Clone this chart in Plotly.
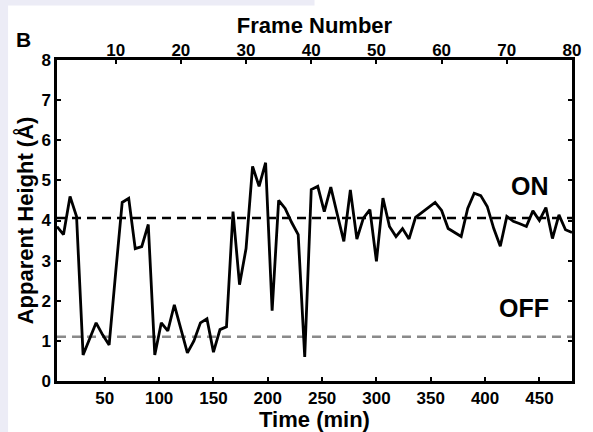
import plotly.graph_objects as go

frames = list(range(1, 81))
time_min = [f * 6 for f in frames]
height = [3.85, 3.65, 4.6, 4.1, 0.65, 1.05, 1.45, 1.15, 0.9, 2.7,
          4.45, 4.55, 3.3, 3.35, 3.9, 0.65, 1.45, 1.25, 1.9, 1.3,
          0.7, 1.0, 1.45, 1.55, 0.72, 1.28, 1.35, 4.22, 2.4, 3.3,
          5.35, 4.85, 5.44, 1.75, 4.5, 4.3, 3.95, 3.65, 0.6, 4.77,
          4.85, 4.22, 4.83, 4.15, 3.48, 4.76, 3.54, 4.06, 4.27, 2.98,
          4.56, 3.85, 3.6, 3.8, 3.54, 4.08, 4.2, 4.32, 4.45, 4.25,
          3.8, 3.7, 3.6, 4.3, 4.68, 4.62, 4.35, 3.8, 3.36, 4.1,
          3.98, 3.92, 3.85, 4.24, 4.0, 4.32, 3.55, 4.14, 3.77, 3.7]
on_level = 4.06
off_level = 1.1
time_range = [6, 480]
frame_range = [1, 80]
time_ticks = [50, 100, 150, 200, 250, 300, 350, 400, 450]
frame_ticks = [10, 20, 30, 40, 50, 60, 70, 80]
y_ticks = [0, 1, 2, 3, 4, 5, 6, 7, 8]

FONT = "Liberation Sans"
tickfont = dict(family=FONT, size=17, color="black", weight="bold")
titlefont = dict(family=FONT, size=22, color="black", weight="bold")
labelfont = dict(family=FONT, size=25, color="black", weight="bold")

fig = go.Figure()
fig.add_trace(go.Scatter(x=time_range, y=[on_level, on_level], mode="lines",
                         line=dict(color="black", width=2.5, dash="9px,6px"),
                         hoverinfo="skip", showlegend=False))
fig.add_trace(go.Scatter(x=time_range, y=[off_level, off_level], mode="lines",
                         line=dict(color="#8a8a8a", width=2.5, dash="9px,6px"),
                         hoverinfo="skip", showlegend=False))
fig.add_trace(go.Scatter(x=time_min, y=height, mode="lines",
                         line=dict(color="black", width=2.8), showlegend=False))
# invisible trace to activate top axis
fig.add_trace(go.Scatter(x=frames, y=height, xaxis="x2", mode="lines",
                         line=dict(color="rgba(0,0,0,0)", width=0),
                         hoverinfo="skip", showlegend=False))

fig.update_layout(
    width=593, height=432,
    margin=dict(l=57, r=20.5, t=60, b=50.5, autoexpand=False),
    paper_bgcolor="white", plot_bgcolor="white",
    xaxis=dict(range=time_range, tickvals=time_ticks, ticks="inside", ticklen=4,
               tickwidth=2, tickcolor="black", showline=True, linewidth=2.5,
               linecolor="black", mirror=True, showgrid=False, zeroline=False,
               tickfont=tickfont, automargin=False,
               title=dict(text="Time (min)", font=titlefont, standoff=2)),
    xaxis2=dict(range=frame_range, tickvals=frame_ticks, overlaying="x", side="top",
                ticks="inside", ticklen=4, tickwidth=2, tickcolor="black",
                showline=False, showgrid=False, zeroline=False, tickfont=tickfont,
                automargin=False,
                title=dict(text="Frame Number", font=titlefont, standoff=0)),
    yaxis=dict(range=[0, 8], tickvals=y_ticks, ticks="inside", ticklen=4,
               tickwidth=2, tickcolor="black", showline=True, linewidth=2.5,
               linecolor="black", mirror="ticks", showgrid=False, zeroline=False,
               tickfont=tickfont, automargin=False,
               title=dict(text="Apparent Height (Å)", font=titlefont, standoff=2)),
    annotations=[
        dict(text="B", x=0, y=0, xref="paper", yref="paper",
             showarrow=False, font=dict(family=FONT, size=21, color="black", weight="bold"),
             xanchor="center", yanchor="middle"),
        dict(text="ON", x=461, y=4.86, xref="x", yref="y", showarrow=False,
             font=labelfont, xanchor="right", yanchor="middle"),
        dict(text="OFF", x=461, y=1.82, xref="x", yref="y", showarrow=False,
             font=labelfont, xanchor="right", yanchor="middle"),
    ],
    shapes=[
        dict(type="rect", xref="paper", yref="paper", x0=-0.2, x1=-0.095,
             y0=-0.2, y1=1.2, fillcolor="#ececf6", line=dict(width=0), layer="below"),
        dict(type="rect", xref="paper", yref="paper", x0=-0.2, x1=0.5,
             y0=1.17, y1=1.2, fillcolor="#ececf6", line=dict(width=0), layer="below"),
    ],
)
# convert B position from pixels to paper coords
pw, ph = 593 - 57 - 20.5, 432 - 60 - 50.5
fig.layout.annotations[0].x = (23.5 - 57) / pw
fig.layout.annotations[0].y = (381.5 - 39.5) / ph

fig.write_html("out.html")
